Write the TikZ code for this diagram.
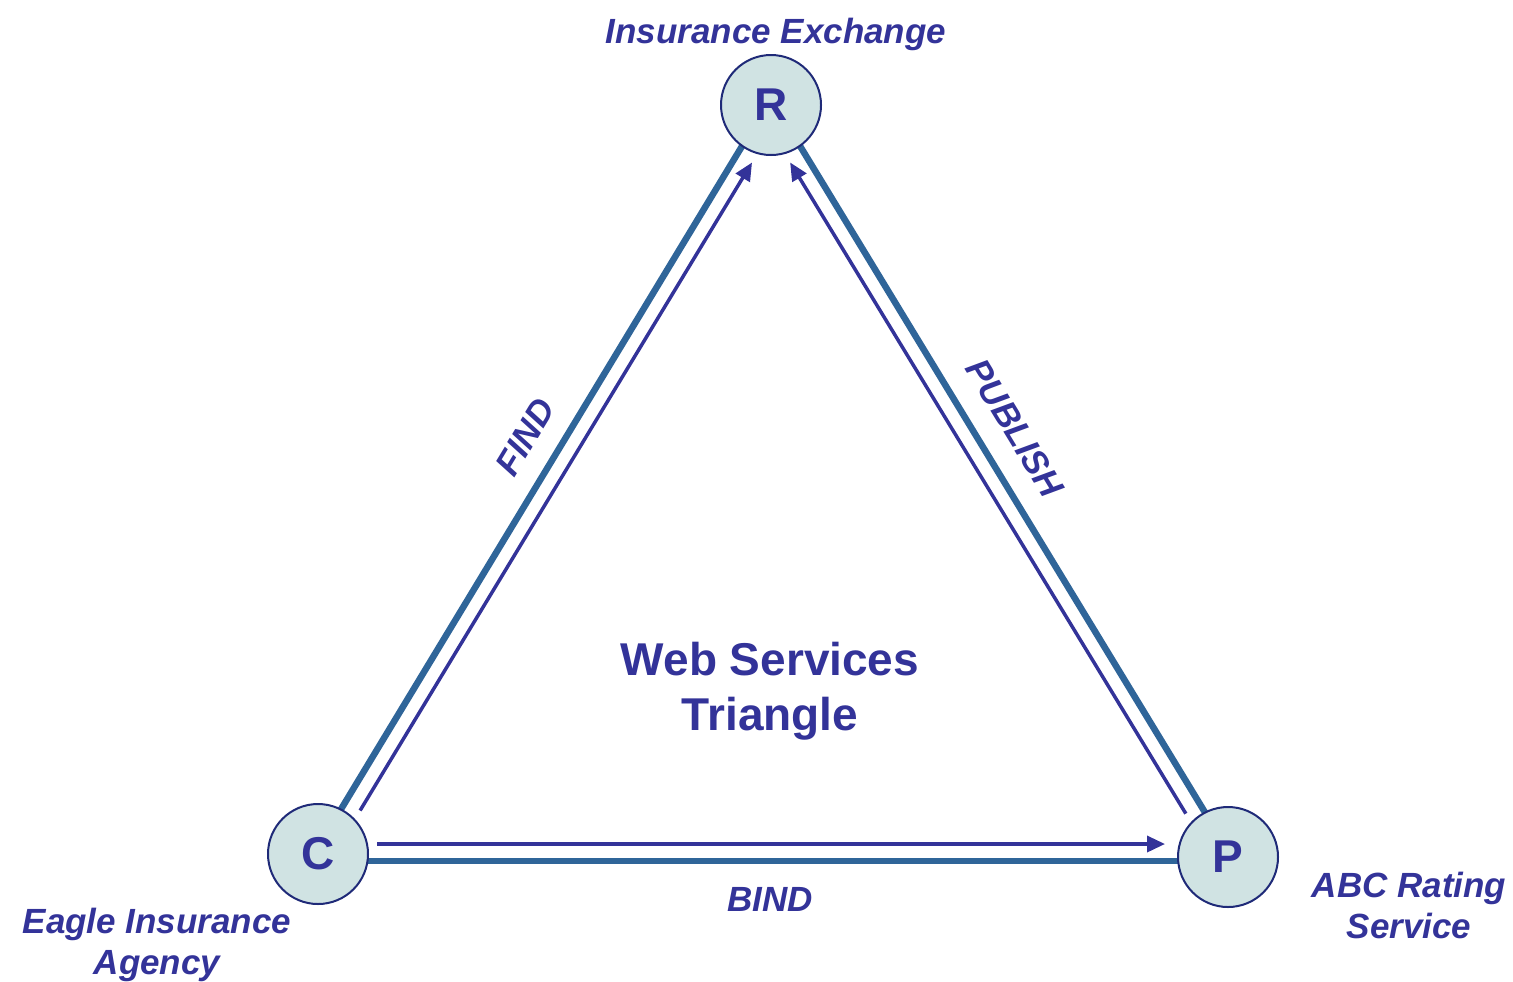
\documentclass[tikz,border=0pt]{standalone}
\usepackage{fontspec}
\setmainfont{Liberation Sans}
\usetikzlibrary{calc,arrows.meta,backgrounds}
\definecolor{txtblue}{RGB}{51,51,153}
\definecolor{edgeblue}{RGB}{47,101,153}
\definecolor{circfill}{RGB}{208,227,227}
\definecolor{circline}{RGB}{31,42,120}
\tikzset{
  vertex/.style={circle, minimum size=50pt, inner sep=0pt, fill=circfill, draw=circline, line width=1pt,
    text=txtblue, font=\fontsize{23}{27}\selectfont\bfseries},
  lbl/.style={text=txtblue, inner sep=0pt, align=center, font=\fontsize{17.5}{20.5}\selectfont\bfseries\itshape},
  ttl/.style={text=txtblue, inner sep=0pt, align=center, font=\fontsize{23}{27.5}\selectfont\bfseries},
  thickedge/.style={draw=edgeblue, line width=3.25pt},
  thinarr/.style={draw=txtblue, line width=1.75pt, -{Triangle[length=9pt,width=8pt]},
    shorten <=29.5pt, shorten >=29.5pt}
}
\begin{document}
\begin{tikzpicture}[x=0.5pt,y=-0.5pt]
\path[use as bounding box] (0,0) rectangle (1513,981);
% vertices
\node[vertex] (R) at (771,105) {R};
\node[vertex] (C) at (318,854) {C};
\node[vertex] (P) at (1228,857) {P};
% edges behind the vertices
\begin{scope}[on background layer]
  \draw[thickedge] ($(C)!1.75pt!90:(R)$) -- ($(R)!1.75pt!-90:(C)$);
  \draw[thickedge] ($(R)!1.75pt!90:(P)$) -- ($(P)!1.75pt!-90:(R)$);
  \coordinate (cb) at ($(C)+(0,7)$);
  \draw[thickedge] (cb) -- (cb -| P);
\end{scope}
% arrows
\draw[thinarr] ($(C)!6.75pt!-90:(R)$) -- ($(R)!6.75pt!90:(C)$);
\draw[thinarr] ($(P)!6.75pt!90:(R)$) -- ($(R)!6.75pt!-90:(P)$);
\coordinate (ct) at ($(C)+(0,-10)$);
\draw[thinarr, shorten >=31.5pt] (ct) -- (ct -| P);
% labels
\node[lbl, anchor=base] (lR) at (776,43) {Insurance Exchange};
\node[lbl, anchor=base] (lC) at (157,974) {Eagle Insurance\\Agency};
\node[lbl, anchor=base] (lP) at (1409,938) {ABC Rating\\Service};
\node[ttl, anchor=base] (title) at (770,730) {Web Services\\Triangle};
\node[lbl, rotate=58.8] (find) at (525,437) {FIND};
\node[lbl, rotate=-58.7] (pub) at (1015,428) {PUBLISH};
\node[lbl, anchor=base] (bind) at (770,911) {BIND};
\end{tikzpicture}
\end{document}
